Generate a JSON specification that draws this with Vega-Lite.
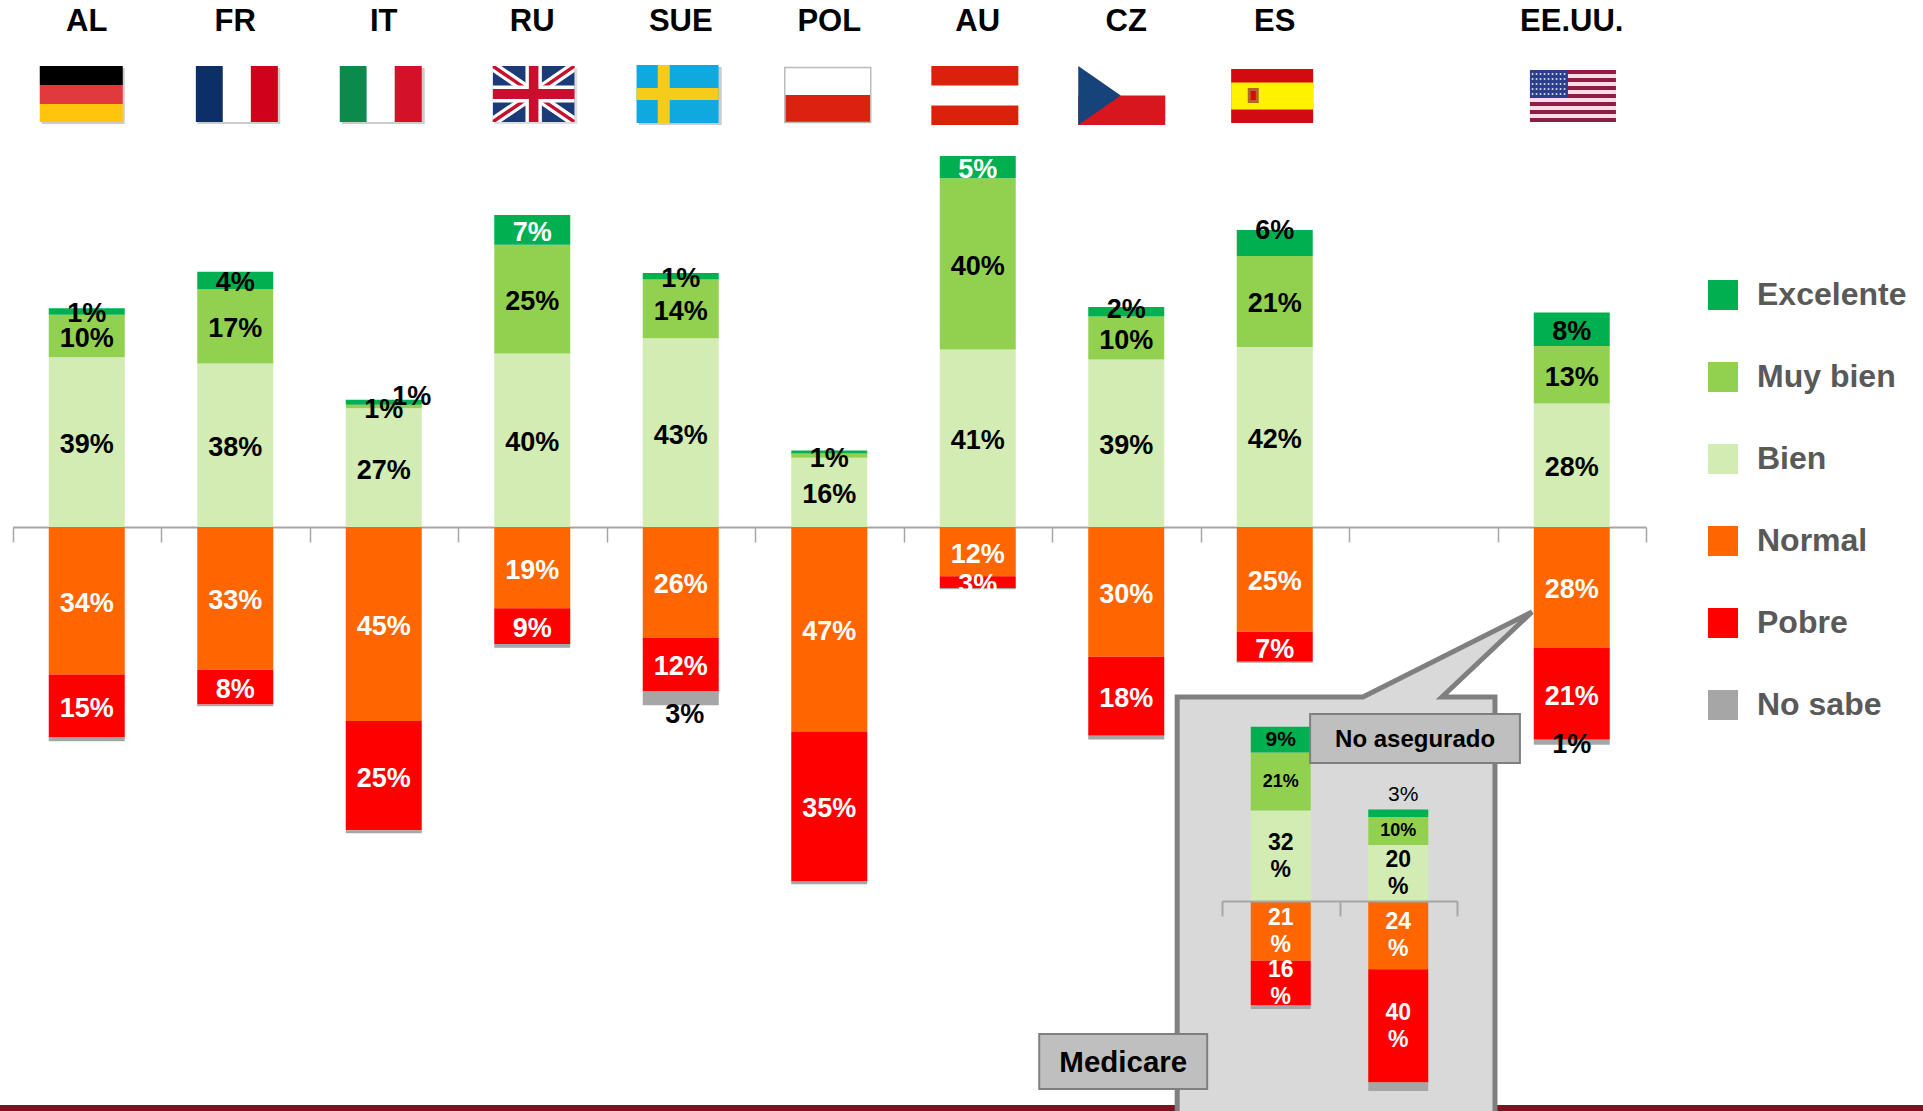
{"$schema":"https://vega.github.io/schema/vega-lite/v6.json","width":1923,"height":1111,"autosize":{"type":"none"},"padding":0,"background":"white","config":{"view":{"stroke":null},"text":{"font":"Liberation Sans"}},
"datasets":{
"main":[
{"country":"AL","cat":"Bien","ord":1,"value":39.0,"label":"39%"},{"country":"AL","cat":"Muy bien","ord":2,"value":9.8,"label":"10%"},{"country":"AL","cat":"Excelente","ord":3,"value":1.5,"label":"1%"},{"country":"AL","cat":"Normal","ord":4,"value":-33.9,"label":"34%"},{"country":"AL","cat":"Pobre","ord":5,"value":-14.5,"label":"15%"},{"country":"AL","cat":"No sabe","ord":6,"value":-0.85,"label":""},
{"country":"FR","cat":"Bien","ord":1,"value":37.6,"label":"38%"},{"country":"FR","cat":"Muy bien","ord":2,"value":17.1,"label":"17%"},{"country":"FR","cat":"Excelente","ord":3,"value":4.0,"label":"4%"},{"country":"FR","cat":"Normal","ord":4,"value":-32.8,"label":"33%"},{"country":"FR","cat":"Pobre","ord":5,"value":-8.0,"label":"8%"},{"country":"FR","cat":"No sabe","ord":6,"value":-0.4,"label":""},
{"country":"IT","cat":"Bien","ord":1,"value":27.3,"label":"27%"},{"country":"IT","cat":"Muy bien","ord":2,"value":0.8,"label":"1%"},{"country":"IT","cat":"Excelente","ord":3,"value":1.15,"label":"1%"},{"country":"IT","cat":"Normal","ord":4,"value":-44.6,"label":"45%"},{"country":"IT","cat":"Pobre","ord":5,"value":-25.1,"label":"25%"},{"country":"IT","cat":"No sabe","ord":6,"value":-0.7,"label":""},
{"country":"RU","cat":"Bien","ord":1,"value":39.9,"label":"40%"},{"country":"RU","cat":"Muy bien","ord":2,"value":25.0,"label":"25%"},{"country":"RU","cat":"Excelente","ord":3,"value":6.8,"label":"7%"},{"country":"RU","cat":"Normal","ord":4,"value":-18.7,"label":"19%"},{"country":"RU","cat":"Pobre","ord":5,"value":-8.2,"label":"9%"},{"country":"RU","cat":"No sabe","ord":6,"value":-0.85,"label":""},
{"country":"SUE","cat":"Bien","ord":1,"value":43.4,"label":"43%"},{"country":"SUE","cat":"Muy bien","ord":2,"value":13.5,"label":"14%"},{"country":"SUE","cat":"Excelente","ord":3,"value":1.5,"label":"1%"},{"country":"SUE","cat":"Normal","ord":4,"value":-25.4,"label":"26%"},{"country":"SUE","cat":"Pobre","ord":5,"value":-12.4,"label":"12%"},{"country":"SUE","cat":"No sabe","ord":6,"value":-3.2,"label":"3%"},
{"country":"POL","cat":"Bien","ord":1,"value":15.9,"label":"16%"},{"country":"POL","cat":"Muy bien","ord":2,"value":1.0,"label":"1%"},{"country":"POL","cat":"Excelente","ord":3,"value":0.7,"label":""},{"country":"POL","cat":"Normal","ord":4,"value":-47.0,"label":"47%"},{"country":"POL","cat":"Pobre","ord":5,"value":-34.5,"label":"35%"},{"country":"POL","cat":"No sabe","ord":6,"value":-0.6,"label":""},
{"country":"AU","cat":"Bien","ord":1,"value":40.8,"label":"41%"},{"country":"AU","cat":"Muy bien","ord":2,"value":39.4,"label":"40%"},{"country":"AU","cat":"Excelente","ord":3,"value":5.1,"label":"5%"},{"country":"AU","cat":"Normal","ord":4,"value":-11.3,"label":"12%"},{"country":"AU","cat":"Pobre","ord":5,"value":-2.7,"label":"3%"},{"country":"AU","cat":"No sabe","ord":6,"value":-0.3,"label":""},
{"country":"CZ","cat":"Bien","ord":1,"value":38.5,"label":"39%"},{"country":"CZ","cat":"Muy bien","ord":2,"value":9.9,"label":"10%"},{"country":"CZ","cat":"Excelente","ord":3,"value":2.2,"label":"2%"},{"country":"CZ","cat":"Normal","ord":4,"value":-29.8,"label":"30%"},{"country":"CZ","cat":"Pobre","ord":5,"value":-18.2,"label":"18%"},{"country":"CZ","cat":"No sabe","ord":6,"value":-0.85,"label":""},
{"country":"ES","cat":"Bien","ord":1,"value":41.4,"label":"42%"},{"country":"ES","cat":"Muy bien","ord":2,"value":20.9,"label":"21%"},{"country":"ES","cat":"Excelente","ord":3,"value":6.0,"label":"6%"},{"country":"ES","cat":"Normal","ord":4,"value":-24.1,"label":"25%"},{"country":"ES","cat":"Pobre","ord":5,"value":-6.9,"label":"7%"},{"country":"ES","cat":"No sabe","ord":6,"value":-0.2,"label":""},
{"country":"EE.UU.","cat":"Bien","ord":1,"value":28.4,"label":"28%"},{"country":"EE.UU.","cat":"Muy bien","ord":2,"value":13.2,"label":"13%"},{"country":"EE.UU.","cat":"Excelente","ord":3,"value":7.7,"label":"8%"},{"country":"EE.UU.","cat":"Normal","ord":4,"value":-27.7,"label":"28%"},{"country":"EE.UU.","cat":"Pobre","ord":5,"value":-21.2,"label":"21%"},{"country":"EE.UU.","cat":"No sabe","ord":6,"value":-1.15,"label":"1%"}
],
"inset":[
{"group":"Medicare","cat":"Bien","ord":1,"value":32.3,"label":"32\n%"},{"group":"Medicare","cat":"Muy bien","ord":2,"value":20.7,"label":"21%"},{"group":"Medicare","cat":"Excelente","ord":3,"value":9.2,"label":"9%"},{"group":"Medicare","cat":"Normal","ord":4,"value":-21.3,"label":"21\n%"},{"group":"Medicare","cat":"Pobre","ord":5,"value":-16.0,"label":"16\n%"},{"group":"Medicare","cat":"No sabe","ord":6,"value":-1.3,"label":""},
{"group":"No asegurado","cat":"Bien","ord":1,"value":20.0,"label":"20\n%"},{"group":"No asegurado","cat":"Muy bien","ord":2,"value":10.0,"label":"10%"},{"group":"No asegurado","cat":"Excelente","ord":3,"value":2.7,"label":""},{"group":"No asegurado","cat":"Normal","ord":4,"value":-24.4,"label":"24\n%"},{"group":"No asegurado","cat":"Pobre","ord":5,"value":-40.4,"label":"40\n%"},{"group":"No asegurado","cat":"No sabe","ord":6,"value":-3.1,"label":""}
],
"flags":[
{"country":"AL","flag":"data:image/svg+xml,%3Csvg xmlns='http://www.w3.org/2000/svg' width='100' height='64'%3E%3Crect x='5' y='4' width='83' height='56' fill='%23ccc'/%3E%3Crect x='3' y='2' width='83' height='19' fill='%23000'/%3E%3Crect x='3' y='21' width='83' height='19' fill='%23E03A3E'/%3E%3Crect x='3' y='40' width='83' height='18' fill='%23FFC40C'/%3E%3C/svg%3E"},
{"country":"FR","flag":"data:image/svg+xml,%3Csvg xmlns='http://www.w3.org/2000/svg' width='100' height='64'%3E%3Crect x='12' y='4' width='83' height='56' fill='%23ccc'/%3E%3Crect x='10.6' y='2' width='27' height='56' fill='%230B2F66'/%3E%3Crect x='37.6' y='2' width='28' height='56' fill='%23fff'/%3E%3Crect x='65.6' y='2' width='27' height='56' fill='%23D0021B'/%3E%3C/svg%3E"},
{"country":"IT","flag":"data:image/svg+xml,%3Csvg xmlns='http://www.w3.org/2000/svg' width='100' height='64'%3E%3Crect x='8' y='4' width='83' height='56' fill='%23ccc'/%3E%3Crect x='6' y='2' width='27' height='56' fill='%230B8A4C'/%3E%3Crect x='33' y='2' width='28' height='56' fill='%23fff'/%3E%3Crect x='61' y='2' width='27' height='56' fill='%23D3122A'/%3E%3C/svg%3E"},
{"country":"RU","flag":"data:image/svg+xml,%3Csvg xmlns='http://www.w3.org/2000/svg' width='100' height='64'%3E%3Crect x='12' y='4' width='83' height='56' fill='%23ddd'/%3E%3Csvg x='10.4' y='2' width='82' height='56' viewBox='0 0 60 40' preserveAspectRatio='none'%3E%3Crect width='60' height='40' fill='%231D3A78'/%3E%3Cpath d='M0 0L60 40M60 0L0 40' stroke='%23fff' stroke-width='7'/%3E%3Cpath d='M0 0L60 40M60 0L0 40' stroke='%23C8102E' stroke-width='2.5'/%3E%3Cpath d='M30 0V40M0 20H60' stroke='%23fff' stroke-width='12'/%3E%3Cpath d='M30 0V40M0 20H60' stroke='%23C8102E' stroke-width='7'/%3E%3C/svg%3E%3C/svg%3E"},
{"country":"SUE","flag":"data:image/svg+xml,%3Csvg xmlns='http://www.w3.org/2000/svg' width='100' height='64'%3E%3Crect x='8' y='3' width='83' height='58' fill='%23ccc'/%3E%3Crect x='5.8' y='1' width='82' height='58' fill='%230FA9E0'/%3E%3Crect x='27' y='1' width='12' height='58' fill='%23F5CC1A'/%3E%3Crect x='5.8' y='24' width='82' height='12' fill='%23F5CC1A'/%3E%3C/svg%3E"},
{"country":"POL","flag":"data:image/svg+xml,%3Csvg xmlns='http://www.w3.org/2000/svg' width='100' height='64'%3E%3Crect x='6' y='4' width='85' height='27' fill='%23fff'/%3E%3Crect x='6' y='31' width='85' height='27' fill='%23DB2210'/%3E%3Crect x='5.5' y='3.5' width='86' height='55' fill='none' stroke='%23bbb' stroke-width='1.5'/%3E%3C/svg%3E"},
{"country":"AU","flag":"data:image/svg+xml,%3Csvg xmlns='http://www.w3.org/2000/svg' width='100' height='64'%3E%3Crect x='3.6' y='2' width='87' height='19.5' fill='%23D9210B'/%3E%3Crect x='3.6' y='41.5' width='87' height='19.5' fill='%23D9210B'/%3E%3C/svg%3E"},
{"country":"CZ","flag":"data:image/svg+xml,%3Csvg xmlns='http://www.w3.org/2000/svg' width='100' height='64'%3E%3Crect x='2' y='31.5' width='87' height='29.5' fill='%23D7161E'/%3E%3Cpolygon points='2,2 44.5,31.5 2,61' fill='%2315437A'/%3E%3C/svg%3E"},
{"country":"ES","flag":"data:image/svg+xml,%3Csvg xmlns='http://www.w3.org/2000/svg' width='100' height='64'%3E%3Crect x='6.4' y='5' width='82' height='54' fill='%23D20A11'/%3E%3Crect x='6.4' y='18.5' width='82' height='27' fill='%23FFF200'/%3E%3Crect x='23' y='24' width='11' height='15' fill='%23B5652A'/%3E%3Crect x='26' y='27' width='5' height='9' fill='%23D20A11'/%3E%3C/svg%3E"},
{"country":"EE.UU.","flag":"data:image/svg+xml,%3Csvg xmlns='http://www.w3.org/2000/svg' width='100' height='64'%3E%3Crect x='8.2' y='6' width='86' height='52' fill='%23F8DCE6'/%3E%3Cpath d='M8.2 8H94.2M8.2 16H94.2M8.2 24H94.2M8.2 32H94.2M8.2 40H94.2M8.2 48H94.2M8.2 56H94.2' stroke='%238E1C44' stroke-width='4'/%3E%3Crect x='8.2' y='6' width='38' height='28' fill='%232B3F8C'/%3E%3Cpath d='M10 10H45M10 15H45M10 20H45M10 25H45M10 30H45' stroke='%23fff' stroke-width='1.6' stroke-dasharray='1.6 2.4'/%3E%3C/svg%3E"}
],
"callout":[{"seq":1,"slot":7.843,"pct":-136},{"seq":2,"slot":7.843,"pct":-39.08},{"seq":3,"slot":9.094,"pct":-39.08},{"seq":4,"slot":10.232,"pct":-19.54},{"seq":5,"slot":9.626,"pct":-39.08},{"seq":6,"slot":9.983,"pct":-39.08},{"seq":7,"slot":9.983,"pct":-136}]
},
"layer":[
{"data":{"name":"callout"},"layer":[
{"data":{"values":[{"tramo":"pie"}]},"mark":{"type":"rule","color":"#7A1420","strokeWidth":6},"encoding":{"y":{"datum":-133.56,"type":"quantitative","scale":{"domain":[-134.25,121.15],"range":[1111,0],"nice":false,"zero":false},"axis":null}}},
{"mark":{"type":"line","interpolate":"linear-closed","stroke":"#7F7F7F","strokeWidth":5,"fill":"#D9D9D9","strokeJoin":"miter"},"encoding":{"x":{"field":"slot","type":"quantitative","scale":{"domain":[0,11],"range":[12.5,1646],"nice":false,"zero":false},"axis":null},"y":{"field":"pct","type":"quantitative","scale":{"domain":[-134.25,121.15],"range":[1111,0],"nice":false,"zero":false},"axis":null},"order":{"field":"seq"}}}
]},
{"data":{"name":"inset"},"mark":{"type":"bar","width":60},"encoding":{
"x":{"field":"group","type":"nominal","scale":{"domain":["Medicare","No asegurado"],"range":[1222,1457],"paddingInner":0,"paddingOuter":0},"axis":{"orient":"bottom","offset":-210,"zindex":1,"title":null,"labels":false,"domain":true,"ticks":true,"domainColor":"#A6A6A6","domainWidth":2,"tickColor":"#A6A6A6","tickWidth":2,"tickSize":15,"tickBand":"extent"}},
"y":{"field":"value","type":"quantitative","stack":"zero","scale":{"domain":[-75,321.79],"range":[1111,0],"nice":false,"zero":false},"axis":null},
"color":{"field":"cat","type":"nominal","scale":{"domain":["Excelente","Muy bien","Bien","Normal","Pobre","No sabe"],"range":["#00B050","#92D050","#D2ECB4","#FF6600","#FF0000","#A6A6A6"]},"legend":{"title":null,"orient":"none","legendX":1707,"legendY":279,"symbolType":"square","symbolSize":900,"symbolStrokeWidth":0,"symbolOpacity":1,"labelFontSize":32,"labelFont":"Liberation Sans","labelFontWeight":"bold","labelColor":"#595959","labelOffset":18,"rowPadding":50,"labelLimit":300}},
"order":{"field":"ord"}}},
{"data":{"name":"inset"},"layer":[
{"mark":{"type":"text","font":"Liberation Sans","fontWeight":"bold","align":"center","baseline":"middle"},"encoding":{
"x":{"field":"group","type":"nominal","scale":{"domain":["Medicare","No asegurado"],"range":[1222,1457],"paddingInner":0,"paddingOuter":0},"axis":null},
"y":{"field":"value","type":"quantitative","stack":"zero","bandPosition":0.5,"scale":{"domain":[-75,321.79],"range":[1111,0],"nice":false,"zero":false},"axis":null},
"detail":{"field":"cat"},"order":{"field":"ord"},
"text":{"condition":{"test":"indexof(datum.label,'\\n')>=0","value":""},"field":"label"},
"size":{"condition":{"test":"datum.label==='9%'","value":21},"value":18},
"color":{"value":"black"}}},
{"mark":{"type":"text","font":"Liberation Sans","fontWeight":"bold","fontSize":23,"align":"center","baseline":"middle","lineBreak":"\n","lineHeight":27,"dy":-13},"encoding":{
"x":{"field":"group","type":"nominal","axis":null},
"y":{"field":"value","type":"quantitative","stack":"zero","bandPosition":0.5,"axis":null},
"detail":{"field":"cat"},"order":{"field":"ord"},
"text":{"condition":{"test":"indexof(datum.label,'\\n')<0","value":""},"field":"label"},
"color":{"condition":{"test":"datum.cat==='Normal'||datum.cat==='Pobre'","value":"white"},"value":"black"}}},
{"data":{"values":[{"group":"No asegurado","label":"3%","at":37.86}]},"mark":{"type":"text","font":"Liberation Sans","fontSize":21,"align":"center","baseline":"middle","dx":5,"color":"black"},"encoding":{"x":{"field":"group","type":"nominal","axis":null},"y":{"field":"at","type":"quantitative","axis":null},"text":{"field":"label"}}}
]},
{"data":{"name":"main"},"mark":{"type":"bar","width":76},"encoding":{
"x":{"field":"country","type":"nominal","scale":{"domain":["AL","FR","IT","RU","SUE","POL","AU","CZ","ES"," ","EE.UU."],"range":[12.5,1646],"paddingInner":0,"paddingOuter":0},"axis":{"orient":"bottom","offset":-584,"title":null,"labels":false,"domain":true,"ticks":true,"domainColor":"#A6A6A6","domainWidth":2,"tickColor":"#A6A6A6","tickWidth":1.5,"tickSize":15,"tickBand":"extent"}},
"y":{"field":"value","type":"quantitative","stack":"zero","scale":{"domain":[-134.25,121.15],"range":[1111,0],"nice":false,"zero":false},"axis":null},
"color":{"field":"cat","type":"nominal","legend":{"title":null,"orient":"none","legendX":1707,"legendY":279,"symbolType":"square","symbolSize":900,"symbolStrokeWidth":0,"symbolOpacity":1,"labelFontSize":32,"labelFont":"Liberation Sans","labelFontWeight":"bold","labelColor":"#595959","labelOffset":18,"rowPadding":50,"labelLimit":300}},
"order":{"field":"ord"}}},
{"data":{"name":"main"},"layer":[
{"mark":{"type":"text","font":"Liberation Sans","fontWeight":"bold","fontSize":27,"align":"center","baseline":"middle","dy":3},"encoding":{
"x":{"field":"country","type":"nominal","scale":{"domain":["AL","FR","IT","RU","SUE","POL","AU","CZ","ES"," ","EE.UU."],"range":[12.5,1646],"paddingInner":0,"paddingOuter":0},"axis":null},
"y":{"field":"value","type":"quantitative","stack":"zero","bandPosition":0.5,"scale":{"domain":[-134.25,121.15],"range":[1111,0],"nice":false,"zero":false},"axis":null},
"detail":{"field":"cat"},"order":{"field":"ord"},
"text":{"condition":{"test":"datum.cat==='Excelente'&&(datum.country==='IT'||datum.country==='ES'||datum.country==='CZ')||datum.country==='SUE'&&datum.cat==='No sabe'","value":""},"field":"label"},
"color":{"condition":{"test":"datum.cat==='Normal'||datum.cat==='Pobre'||datum.cat==='Excelente'&&(datum.country==='RU'||datum.country==='AU')","value":"white"},"value":"black"}}},
{"data":{"values":[{"country":"ES","label":"6%","at":68.37},{"country":"CZ","label":"2%","at":50.2}]},"mark":{"type":"text","font":"Liberation Sans","fontWeight":"bold","fontSize":27,"align":"center","baseline":"middle","dy":1,"color":"black"},"encoding":{"x":{"field":"country","type":"nominal","axis":null},"y":{"field":"at","type":"quantitative","axis":null},"text":{"field":"label"}}},
{"data":{"values":[{"country":"SUE","label":"3%","at":-43.2}]},"mark":{"type":"text","font":"Liberation Sans","fontWeight":"bold","fontSize":27,"align":"center","baseline":"middle","dx":4,"color":"black"},"encoding":{"x":{"field":"country","type":"nominal","axis":null},"y":{"field":"at","type":"quantitative","axis":null},"text":{"field":"label"}}},
{"data":{"values":[{"country":"IT","label":"1%","at":30}]},"mark":{"type":"text","font":"Liberation Sans","fontWeight":"bold","fontSize":27,"align":"center","baseline":"middle","dx":28,"color":"black"},"encoding":{"x":{"field":"country","type":"nominal","axis":null},"y":{"field":"at","type":"quantitative","axis":null},"text":{"field":"label"}}},
{"data":{"name":"flags"},"mark":{"type":"text","font":"Liberation Sans","fontWeight":"bold","fontSize":31,"align":"center","baseline":"middle","dy":1,"color":"black"},"encoding":{"x":{"field":"country","type":"nominal","axis":null},"y":{"datum":116.3,"type":"quantitative","axis":null},"text":{"field":"country"}}},
{"data":{"name":"flags"},"mark":{"type":"image","width":100,"height":64,"aspect":false,"align":"center","baseline":"middle"},"encoding":{"x":{"field":"country","type":"nominal","axis":null},"y":{"datum":99.08,"type":"quantitative","axis":null},"url":{"field":"flag","type":"nominal"}}}
]},
{"layer":[
{"data":{"values":[{"etiqueta":"No asegurado"}]},"layer":[
{"mark":{"type":"rect","fill":"#BFBFBF","stroke":"#7F7F7F","strokeWidth":2},"encoding":{"x":{"datum":8.738,"type":"quantitative","scale":{"domain":[0,11],"range":[12.5,1646],"nice":false,"zero":false},"axis":null},"x2":{"datum":10.151},"y":{"datum":-42.99,"type":"quantitative","scale":{"domain":[-134.25,121.15],"range":[1111,0],"nice":false,"zero":false},"axis":null},"y2":{"datum":-54.25}}},
{"mark":{"type":"text","font":"Liberation Sans","fontWeight":"bold","fontSize":24,"align":"center","baseline":"middle","dy":2,"color":"black"},"encoding":{"x":{"datum":9.445,"type":"quantitative","axis":null},"y":{"datum":-48.6,"type":"quantitative","axis":null},"text":{"field":"etiqueta"}}}
]},
{"data":{"values":[{"etiqueta":"Medicare"}]},"layer":[
{"mark":{"type":"rect","fill":"#BFBFBF","stroke":"#7F7F7F","strokeWidth":2},"encoding":{"x":{"datum":6.914,"type":"quantitative","axis":null},"x2":{"datum":8.045},"y":{"datum":-116.55,"type":"quantitative","axis":null},"y2":{"datum":-129.2}}},
{"mark":{"type":"text","font":"Liberation Sans","fontWeight":"bold","fontSize":29.5,"align":"center","baseline":"middle","dy":1,"color":"black"},"encoding":{"x":{"datum":7.48,"type":"quantitative","axis":null},"y":{"datum":-122.9,"type":"quantitative","axis":null},"text":{"field":"etiqueta"}}}
]}
]}
],
"resolve":{"scale":{"x":"independent","y":"independent"},"axis":{"x":"independent","y":"independent"}}
}
